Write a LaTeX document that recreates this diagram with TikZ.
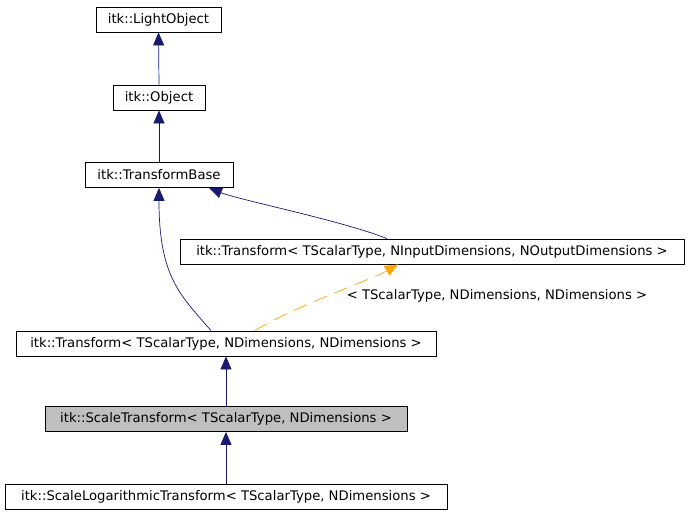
\documentclass[tikz,border=0pt]{standalone}
\usepackage{fontspec}
\setmainfont{DejaVu Sans}
\usetikzlibrary{arrows.meta}
\definecolor{edgeblue}{HTML}{191970}
\definecolor{edgeorange}{HTML}{FFA500}
\definecolor{cur}{HTML}{BFBFBF}
\begin{document}
\begin{tikzpicture}[x=1pt,y=-1pt,
  cls/.style={draw=black,line width=0.8pt,fill=white,inner sep=0pt,minimum height=25pt,font=\fontsize{13.2}{15}\selectfont},
  inh/.style={draw=edgeblue,line width=0.7pt,-{Triangle[length=13pt,width=11pt]}},
  tmpl/.style={draw=edgeorange,line width=0.7pt,dash pattern=on 14pt off 8pt,-{Triangle[length=13pt,width=11pt]}}]
\useasboundingbox (0,0) rectangle (689,515);
\node[cls,minimum width=125pt] (lo) at (158.5,19.5) {itk::LightObject};
\node[cls,minimum width=92pt] (obj) at (159,97.5) {itk::Object};
\node[cls,minimum width=148pt] (tb) at (159,175) {itk::TransformBase};
\node[cls,minimum width=504pt] (tio) at (432,251.5) {itk::Transform< TScalarType, NInputDimensions, NOutputDimensions >};
\node[cls,minimum width=420pt] (tnd) at (226,343.5) {itk::Transform< TScalarType, NDimensions, NDimensions >};
\node[cls,fill=cur,minimum width=362pt] (st) at (226,419) {itk::ScaleTransform< TScalarType, NDimensions >};
\node[cls,minimum width=442pt] (slt) at (226,496.5) {itk::ScaleLogarithmicTransform< TScalarType, NDimensions >};
\node[font=\fontsize{13.2}{15}\selectfont,inner sep=0pt] (lbl) at (497,296) {< TScalarType, NDimensions, NDimensions >};
\draw[inh] (obj.north) -- (lo.south);
\draw[inh] (tb.north) -- (obj.south);
\draw[inh] ([xshift=-45pt]tio.north) .. controls ([xshift=-90pt,yshift=18pt]tio.north) and ([xshift=80pt,yshift=-12pt]tb.south) .. ([xshift=50pt]tb.south);
\draw[inh] ([xshift=-15pt]tnd.north) .. controls ([xshift=-45pt,yshift=35pt]tnd.north) and ([yshift=-90pt]tb.south) .. (tb.south);
\draw[tmpl] ([xshift=29pt]tnd.north) .. controls ([xshift=70pt,yshift=25pt]tnd.north) and ([xshift=-60pt,yshift=-15pt]tio.south) .. ([xshift=-34pt]tio.south);
\draw[inh] (st.north) -- (tnd.south);
\draw[inh] (slt.north) -- (st.south);
\end{tikzpicture}
\end{document}
